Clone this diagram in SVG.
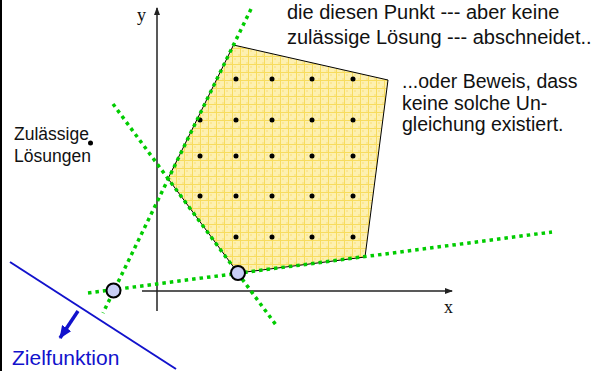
<svg xmlns="http://www.w3.org/2000/svg" width="594" height="371" viewBox="0 0 594 371">
<defs>
<pattern id="grid" x="0" y="0" width="8" height="8" patternUnits="userSpaceOnUse">
<rect width="8" height="8" fill="#fdf0b0"/>
<rect x="2" y="2" width="2" height="2" fill="#fbe794"/>
<rect x="6" y="6" width="2" height="2" fill="#fbe794"/>
<path d="M0 0.5H8M0.5 0V8" stroke="#f7dc5e" stroke-width="1"/>
</pattern>
<marker id="axarr" markerWidth="8" markerHeight="6" refX="7" refY="3" orient="auto" markerUnits="userSpaceOnUse">
<path d="M0 0L8 3L0 6z" fill="#222"/>
</marker>
<marker id="bluearr" markerWidth="13" markerHeight="11" refX="12" refY="5.5" orient="auto" markerUnits="userSpaceOnUse">
<path d="M0 0L13 5.5L0 11z" fill="#1212cc"/>
</marker>
<style>
.sans{font-family:"Liberation Sans",Arial,sans-serif;fill:#111}
.serif{font-family:"Liberation Serif","Times New Roman",serif;fill:#111;font-size:18px}
.cut{fill:none;stroke:#00cc00;stroke-width:3.5;stroke-dasharray:3.5 4}
.axis{stroke:#222;stroke-width:1.5;fill:none}
.pt{fill:#000}
.vtx{fill:#c9cdf5;stroke:#000;stroke-width:2}
</style>
</defs>
<rect width="594" height="371" fill="#fff"/>
<line x1="1" y1="0" x2="1" y2="371" stroke="#000" stroke-width="2"/>

<g id="axes">
<line class="axis" x1="157" y1="311" x2="157" y2="8" marker-end="url(#axarr)"/>
<line class="axis" x1="142" y1="291" x2="452" y2="291" marker-end="url(#axarr)"/>
<text class="serif" x="137" y="21">y</text>
<text class="serif" x="444" y="313">x</text>
</g>

<g id="polytope">
<polygon points="233.5,45 388,80 365,257 238,273 168,178.6" fill="url(#grid)" stroke="#000" stroke-width="1"/>
<g id="integer-points">
<circle class="pt" cx="236" cy="79" r="2.5"/><circle class="pt" cx="272" cy="79" r="2.5"/><circle class="pt" cx="312" cy="79" r="2.5"/><circle class="pt" cx="353" cy="79" r="2.5"/>
<circle class="pt" cx="200" cy="120" r="2.5"/><circle class="pt" cx="236" cy="120" r="2.5"/><circle class="pt" cx="272" cy="120" r="2.5"/><circle class="pt" cx="312" cy="120" r="2.5"/><circle class="pt" cx="353" cy="120" r="2.5"/>
<circle class="pt" cx="200" cy="156" r="2.5"/><circle class="pt" cx="236" cy="156" r="2.5"/><circle class="pt" cx="272" cy="156" r="2.5"/><circle class="pt" cx="312" cy="156" r="2.5"/><circle class="pt" cx="353" cy="156" r="2.5"/>
<circle class="pt" cx="200" cy="196" r="2.5"/><circle class="pt" cx="236" cy="196" r="2.5"/><circle class="pt" cx="272" cy="196" r="2.5"/><circle class="pt" cx="312" cy="196" r="2.5"/><circle class="pt" cx="353" cy="196" r="2.5"/>
<circle class="pt" cx="236" cy="237" r="2.5"/><circle class="pt" cx="272" cy="237" r="2.5"/><circle class="pt" cx="312" cy="237" r="2.5"/><circle class="pt" cx="353" cy="237" r="2.5"/>
</g>
</g>

<g id="connectors">
<line class="cut" x1="251" y1="9" x2="103" y2="313"/>
<line class="cut" x1="113" y1="104" x2="276" y2="325"/>
<line class="cut" x1="88" y1="293" x2="552" y2="232"/>
<line x1="10" y1="262" x2="176" y2="369" stroke="#1212cc" stroke-width="2"/>
<line x1="78" y1="311" x2="60" y2="338" stroke="#1212cc" stroke-width="3.5" marker-end="url(#bluearr)"/>
</g>

<g id="vertices">
<circle class="vtx" cx="113.5" cy="290.5" r="7"/>
<circle class="vtx" cx="238" cy="273" r="7"/>
</g>

<g id="legend-feasible">
<circle class="pt" cx="90.5" cy="143" r="2.5"/>
<text class="sans" font-size="17.5" x="14" y="140">Zulässige</text>
<text class="sans" font-size="17.5" x="14" y="162">Lösungen</text>
</g>

<g id="label-top">
<text class="sans" font-size="20" x="287" y="19">die diesen Punkt --- aber keine</text>
<text class="sans" font-size="20" x="287" y="44">zulässige Lösung --- abschneidet..</text>
</g>

<g id="label-right">
<text class="sans" font-size="19.5" x="402" y="88">...oder Beweis, dass</text>
<text class="sans" font-size="19.5" x="402" y="110">keine solche Un-</text>
<text class="sans" font-size="19.5" x="402" y="131">gleichung existiert.</text>
</g>

<g id="label-objective">
<text class="sans" font-size="21" x="12" y="365" style="fill:#1212cc">Zielfunktion</text>
</g>
</svg>
